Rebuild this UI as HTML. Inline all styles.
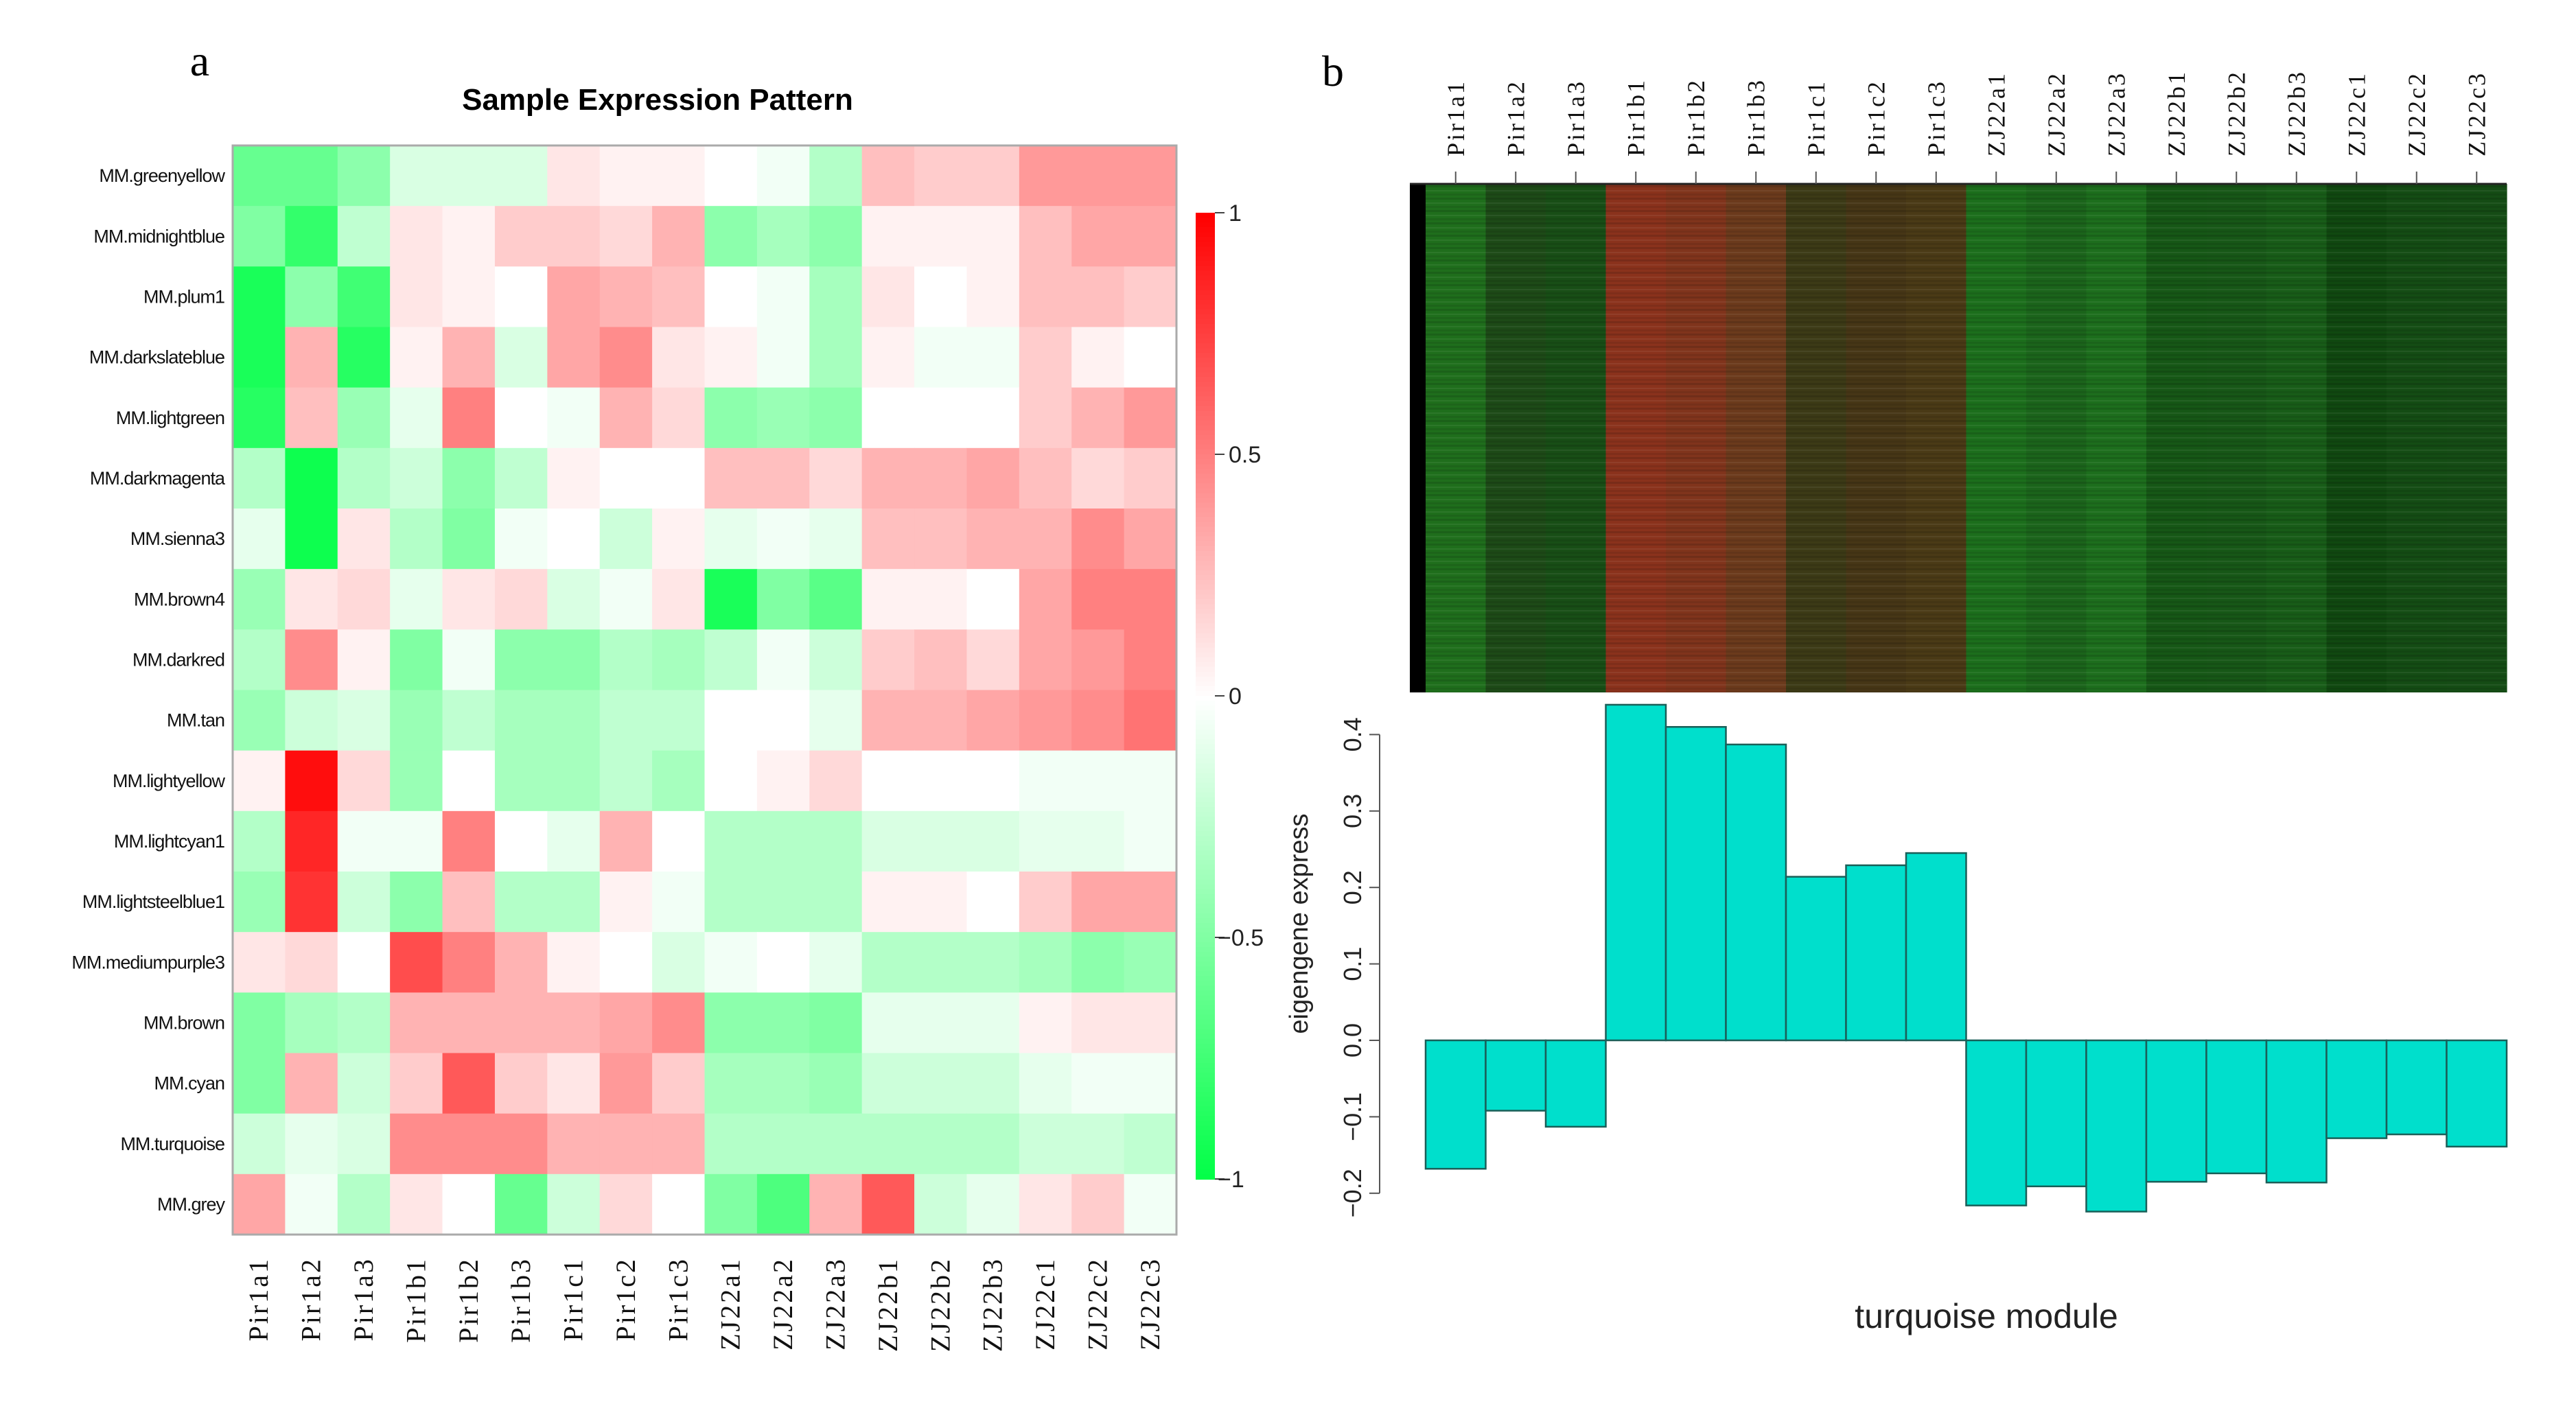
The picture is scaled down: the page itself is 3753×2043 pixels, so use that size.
<!DOCTYPE html>
<html><head><meta charset="utf-8"><style>
html,body{margin:0;padding:0;background:#fff}
svg{display:block}
</style></head><body>
<svg id="fig" width="3753" height="2043" viewBox="0 0 3753 2043" xmlns="http://www.w3.org/2000/svg">
<defs>
<pattern id="stripes" width="40" height="18" patternUnits="userSpaceOnUse">
<rect x="0" y="0" width="40" height="3" fill="rgba(0,0,0,0.12)"/>
<rect x="0" y="7" width="40" height="2" fill="rgba(255,255,255,0.06)"/>
<rect x="0" y="12" width="40" height="3" fill="rgba(0,0,0,0.08)"/>
</pattern>
</defs>
<g id="panelA"></g>
<g id="panelB"></g>
</svg>
<script>
const samples = ["Pir1a1","Pir1a2","Pir1a3","Pir1b1","Pir1b2","Pir1b3","Pir1c1","Pir1c2","Pir1c3","ZJ22a1","ZJ22a2","ZJ22a3","ZJ22b1","ZJ22b2","ZJ22b3","ZJ22c1","ZJ22c2","ZJ22c3"];
const modules = ["MM.greenyellow","MM.midnightblue","MM.plum1","MM.darkslateblue","MM.lightgreen","MM.darkmagenta","MM.sienna3","MM.brown4","MM.darkred","MM.tan","MM.lightyellow","MM.lightcyan1","MM.lightsteelblue1","MM.mediumpurple3","MM.brown","MM.cyan","MM.turquoise","MM.grey"];
const corr = [
[-0.6,-0.6,-0.45,-0.15,-0.15,-0.15,0.1,0.05,0.05,0,-0.05,-0.3,0.25,0.2,0.2,0.4,0.4,0.4],
[-0.5,-0.8,-0.25,0.1,0.05,0.2,0.2,0.15,0.3,-0.45,-0.35,-0.45,0.05,0.05,0.05,0.25,0.35,0.35],
[-0.9,-0.45,-0.75,0.1,0.05,0,0.35,0.3,0.25,0,-0.05,-0.35,0.1,0,0.05,0.25,0.25,0.2],
[-0.9,0.3,-0.85,0.05,0.3,-0.15,0.35,0.45,0.1,0.05,-0.05,-0.35,0.05,-0.05,-0.05,0.2,0.05,0],
[-0.85,0.25,-0.4,-0.1,0.5,0,-0.05,0.3,0.15,-0.45,-0.4,-0.45,0,0,0,0.2,0.3,0.4],
[-0.3,-0.95,-0.3,-0.2,-0.45,-0.25,0.05,0,0,0.25,0.25,0.15,0.3,0.3,0.35,0.25,0.15,0.2],
[-0.1,-0.95,0.1,-0.3,-0.5,-0.05,0,-0.2,0.05,-0.1,-0.05,-0.1,0.25,0.25,0.3,0.3,0.45,0.35],
[-0.4,0.1,0.15,-0.1,0.1,0.15,-0.15,-0.05,0.1,-0.9,-0.5,-0.65,0.05,0.05,0,0.35,0.5,0.5],
[-0.3,0.45,0.05,-0.5,-0.05,-0.45,-0.45,-0.3,-0.35,-0.25,-0.05,-0.2,0.2,0.25,0.15,0.35,0.4,0.5],
[-0.4,-0.2,-0.15,-0.4,-0.25,-0.35,-0.35,-0.25,-0.25,0,0,-0.1,0.3,0.3,0.35,0.4,0.45,0.55],
[0.05,0.95,0.15,-0.4,0,-0.35,-0.35,-0.25,-0.35,0,0.05,0.15,0,0,0,-0.05,-0.05,-0.05],
[-0.3,0.85,-0.05,-0.05,0.5,0,-0.1,0.3,0,-0.3,-0.3,-0.3,-0.15,-0.15,-0.15,-0.1,-0.1,-0.05],
[-0.4,0.8,-0.2,-0.45,0.25,-0.3,-0.3,0.05,-0.05,-0.3,-0.3,-0.3,0.05,0.05,0,0.2,0.35,0.35],
[0.1,0.15,0,0.7,0.5,0.3,0.05,0,-0.15,-0.05,0,-0.1,-0.3,-0.3,-0.3,-0.35,-0.45,-0.4],
[-0.5,-0.35,-0.3,0.3,0.3,0.3,0.3,0.35,0.45,-0.45,-0.45,-0.5,-0.1,-0.1,-0.1,0.05,0.1,0.1],
[-0.5,0.3,-0.2,0.2,0.65,0.2,0.1,0.4,0.2,-0.35,-0.35,-0.4,-0.2,-0.2,-0.2,-0.1,-0.05,-0.05],
[-0.2,-0.1,-0.15,0.45,0.45,0.45,0.3,0.3,0.3,-0.3,-0.3,-0.3,-0.3,-0.3,-0.3,-0.2,-0.2,-0.25],
[0.35,-0.05,-0.3,0.1,0,-0.6,-0.2,0.15,0,-0.5,-0.7,0.3,0.65,-0.2,-0.1,0.1,0.2,-0.05]
];
const colorbarTicks = [1,0.5,0,-0.5,-1];
const colorbarLabels = ["1","0.5","0","\u22120.5","\u22121"];
const eigengene = [-0.168,-0.092,-0.113,0.439,0.410,0.387,0.214,0.229,0.245,-0.216,-0.191,-0.224,-0.185,-0.174,-0.186,-0.128,-0.123,-0.139];
const barTicks = [-0.2,-0.1,0.0,0.1,0.2,0.3,0.4];
const barTickLabels = ["\u22120.2","\u22120.1","0.0","0.1","0.2","0.3","0.4"];
const sampleExprColors = ["#1f6e1c","#1d4a17","#184e16","#8a321c","#80341c","#6b3a1c","#3c3a16","#463616","#4a3a16","#1c6e1c","#1b641b","#1d6e1d","#165716","#175717","#185c18","#104810","#144c14","#154c15"];

const NS="http://www.w3.org/2000/svg";
function mk(parent, tag, attrs, text){
  const e=document.createElementNS(NS,tag);
  for(const k in attrs) e.setAttribute(k, attrs[k]);
  if(text!==undefined) e.textContent=text;
  parent.appendChild(e); return e;
}
function heatColor(v){
  v=Math.max(-1,Math.min(1,v));
  if(v>=0){const c=Math.round(255*(1-v));return `rgb(255,${c},${c})`;}
  const a=-v; const r=Math.round(255*(1-a)); const b=Math.round(255*(1-a)+70*a);
  return `rgb(${r},255,${b})`;
}
const A=document.getElementById('panelA');
const B=document.getElementById('panelB');

// ---- Panel A ----
const hx0=339,hx1=1714,hy0=212,hy1=1799;
const cw=(hx1-hx0)/samples.length, rh=(hy1-hy0)/modules.length;
const xCol=i=>hx0+i*cw, yRow=j=>hy0+j*rh;
let t;
t=mk(A,'text',{x:291,y:110,'font-family':'Liberation Serif, serif','font-size':64,'text-anchor':'middle'},'a');


t=mk(A,'text',{x:958,y:160,'font-family':'Liberation Sans, sans-serif','font-size':44,'font-weight':'bold','text-anchor':'middle'},'Sample Expression Pattern');


const cells=mk(A,'g',{});


corr.forEach((row,j)=>row.forEach((v,i)=>{
  const r=mk(cells,'rect',{x:xCol(i),y:yRow(j),width:cw+0.6,height:rh+0.6,fill:heatColor(v)});
  
  
}));
t=mk(A,'rect',{x:hx0,y:hy0,width:hx1-hx0,height:hy1-hy0,fill:'none',stroke:'#aaa','stroke-width':3});


modules.forEach((m,j)=>{
  const l=mk(A,'text',{x:327,y:yRow(j)+rh/2+9,'font-family':'Liberation Sans, sans-serif','font-size':27,'text-anchor':'end','letter-spacing':-1,fill:'#111'},m);
  
  
});
samples.forEach((s,i)=>{
  const cx=xCol(i)+cw/2+13;
  const l=mk(A,'text',{x:cx,y:1832,transform:`rotate(-90 ${cx} 1832)`,'font-family':'Liberation Serif, serif','font-size':40,'text-anchor':'end','letter-spacing':3,fill:'#111'},s);
  
  
});
// colorbar
const cbx=1742,cbw=28,cby0=310,cby1=1718;
const cbY=v=>cby0+(1-v)/2*(cby1-cby0);
const cb=mk(A,'g',{});


for(let k=0;k<200;k++){
  const v=1-2*k/200;
  mk(cb,'rect',{x:cbx,y:cbY(v),width:cbw,height:(cby1-cby0)/200+1,fill:heatColor(v)});
}
colorbarTicks.forEach((v,k)=>{
  mk(cb,'line',{x1:cbx+cbw,x2:cbx+cbw+14,y1:cbY(v),y2:cbY(v),stroke:'#444','stroke-width':2});
  const l=mk(cb,'text',{x:cbx+cbw+ (v<0?4:20),y:cbY(v)+12,'font-family':'Liberation Sans, sans-serif','font-size':34,fill:'#222'},colorbarLabels[k]);
  
  
});

// ---- Panel B ----
t=mk(B,'text',{x:1942,y:125,'font-family':'Liberation Serif, serif','font-size':64,'text-anchor':'middle'},'b');


const bx0=2077,bx1=3652,by0=268,by1=1009;
const bw=(bx1-bx0)/samples.length;
const bxCol=i=>bx0+i*bw;
t=mk(B,'rect',{x:2054,y:by0,width:bx0-2054,height:by1-by0,fill:'#000'});


const eh=mk(B,'g',{});


sampleExprColors.forEach((c,i)=>{
  const r=mk(eh,'rect',{x:bxCol(i),y:by0,width:bw+0.6,height:by1-by0,fill:c});
  
  
});
t=mk(B,'rect',{x:bx0,y:by0,width:bx1-bx0,height:by1-by0,fill:'url(#stripes)'});


mk(B,'line',{x1:2054,x2:bx1,y1:by0,y2:by0,stroke:'#222','stroke-width':3});
samples.forEach((s,i)=>{
  const cx=bxCol(i)+bw/2;
  mk(B,'line',{x1:cx,x2:cx,y1:250,y2:by0,stroke:'#555','stroke-width':2});
  const l=mk(B,'text',{x:cx+12,y:228,transform:`rotate(-90 ${cx+12} 228)`,'font-family':'Liberation Serif, serif','font-size':36,'letter-spacing':3,fill:'#111'},s);
  
  
});
// bar chart
const y0=1516, unit=1114; // px per 1.0
const yv=v=>y0-v*unit;
const bars=mk(B,'g',{});


eigengene.forEach((v,i)=>{
  const top=Math.min(yv(v),yv(0)), h=Math.abs(yv(v)-yv(0));
  const r=mk(bars,'rect',{x:bxCol(i),y:top,width:bw,height:h,fill:'#00dfcc',stroke:'#1a5f58','stroke-width':2.5});
  
  
});
const ax=mk(B,'g',{});


mk(ax,'line',{x1:2010,x2:2010,y1:yv(0.4),y2:yv(-0.2),stroke:'#555','stroke-width':2});
barTicks.forEach((v,k)=>{
  mk(ax,'line',{x1:1995,x2:2010,y1:yv(v),y2:yv(v),stroke:'#555','stroke-width':2});
  const tx=1983, ty=yv(v);
  const l=mk(ax,'text',{x:tx,y:ty,transform:`rotate(-90 ${tx} ${ty})`,'font-family':'Liberation Sans, sans-serif','font-size':36,'text-anchor':'middle',fill:'#222'},barTickLabels[k]);
  
  
});
t=mk(B,'text',{x:1905,y:1346,transform:'rotate(-90 1905 1346)','font-family':'Liberation Sans, sans-serif','font-size':38,'text-anchor':'middle',fill:'#222'},'eigengene express');


t=mk(B,'text',{x:2894,y:1935,'font-family':'Liberation Sans, sans-serif','font-size':50,'text-anchor':'middle',fill:'#222'},'turquoise module');


</script>
</body></html>
